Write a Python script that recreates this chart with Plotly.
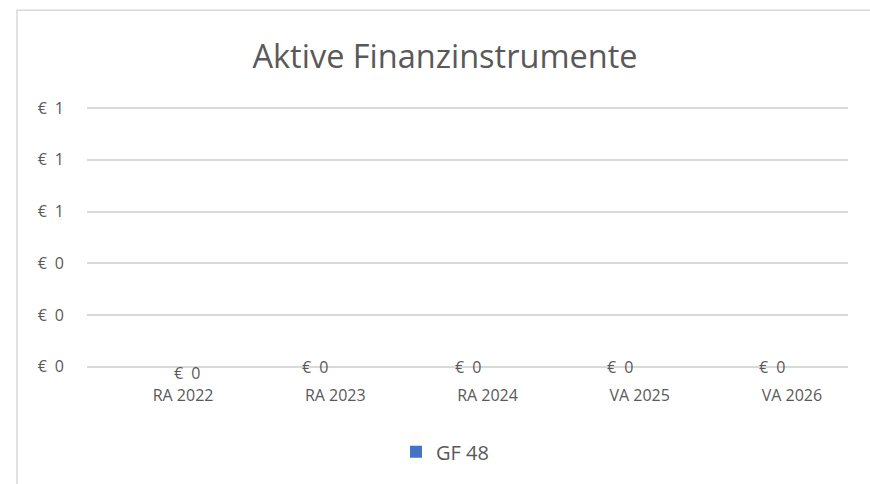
import plotly.graph_objects as go

categories = ["RA 2022", "RA 2023", "RA 2024", "VA 2025", "VA 2026"]
series_name = "GF 48"
values = [0, 0, 0, 0, 0]
y_tickvals = [0, 0.2, 0.4, 0.6, 0.8, 1.0]

FONT = "Open Sans"
TXT = "#595959"
GRID = "#d9d9d9"
BLUE = "#4472C4"
EUR = "€\u2002"

W, H = 870, 484
# plot area in pixels: x 87..848, y(0)=367, y(1)=108
PAD = 0.012
X0, X1 = 87, 848
Y1PX, Y0PX = 108, 367
unit = (Y0PX - Y1PX)
T = Y1PX - PAD * unit
B = H - (Y0PX + PAD * unit)
L, R = X0, W - X1
pw, ph = W - L - R, H - T - B

fig = go.Figure()
fig.add_trace(go.Bar(x=categories, y=values, name=series_name,
                     marker=dict(color=BLUE, line=dict(width=0)), showlegend=True))

# data labels
lbl_dx = [24, 0, 0, 0, 0]
lbl_dy = [-6, 0, 0, 0, 0]
for i, (c, v) in enumerate(zip(categories, values)):
    fig.add_annotation(x=c, y=v, text=EUR + "%d" % round(v), showarrow=False,
                       xanchor="center", yanchor="middle",
                       xshift=lbl_dx[i], yshift=lbl_dy[i],
                       font=dict(family=FONT, size=16, color=TXT))

def px2paper_x(px):
    return (px - L) / pw

def px2paper_y(py):
    return (H - B - py) / ph

fig.add_shape(type="rect", xref="paper", yref="paper",
              x0=px2paper_x(17), x1=px2paper_x(900),
              y0=px2paper_y(520), y1=px2paper_y(10),
              line=dict(color=GRID, width=1.5), fillcolor="rgba(0,0,0,0)",
              layer="below")

fig.update_layout(
    width=W, height=H,
    margin=dict(l=L, r=R, t=T, b=B, pad=0),
    paper_bgcolor="white", plot_bgcolor="white",
    title=dict(text="Aktive Finanzinstrumente", x=445 / W, xanchor="center",
               xref="container", yref="container", y=1 - 57 / H, yanchor="middle",
               font=dict(family=FONT, size=32.5, color=TXT)),
    font=dict(family=FONT, color=TXT, size=16),
    showlegend=True,
    legend=dict(orientation="h", x=px2paper_x(445), xanchor="center",
                y=px2paper_y(452), yanchor="middle",
                font=dict(family=FONT, size=20, color=TXT),
                bgcolor="rgba(0,0,0,0)"),
    bargap=0.5,
)
fig.update_xaxes(type="category", showgrid=False, showline=False, ticks="",
                 ticklabelshift=20, ticklabelstandoff=14,
                 tickfont=dict(family=FONT, size=16, color=TXT),
                 fixedrange=True)
fig.update_yaxes(range=[-PAD, 1 + PAD], tickvals=y_tickvals,
                 ticktext=[EUR + "%d" % round(v) for v in y_tickvals],
                 showgrid=True, gridcolor=GRID, gridwidth=1.5, zeroline=False,
                 showline=False, ticks="", ticklabelstandoff=22,
                 tickfont=dict(family=FONT, size=16, color=TXT),
                 fixedrange=True)

fig.write_html("out.html", config={"displayModeBar": False},
               post_script="document.body.style.margin='0';document.body.style.overflow='hidden';")
